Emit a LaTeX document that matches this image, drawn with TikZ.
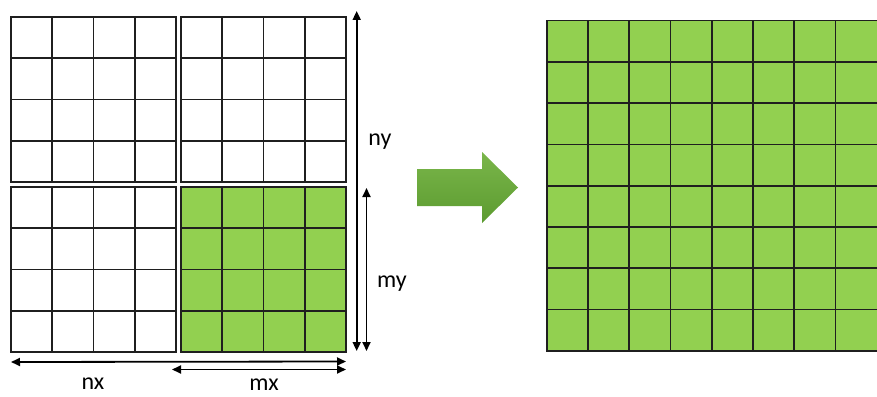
\documentclass[tikz,border=0pt]{standalone}
\usepackage{fontspec}
\setmainfont{Carlito}
\usetikzlibrary{arrows.meta}
\definecolor{cellgreen}{HTML}{92D050}
\definecolor{arrowtop}{HTML}{7AB64A}
\definecolor{arrowbot}{HTML}{5C9B30}
\begin{document}
\begin{tikzpicture}[x=1pt,y=-1pt,
  gridline/.style={line width=1.6pt, draw=black!88},
  dimarrow/.style={line width=1.8pt, {Triangle[length=9pt,width=8pt]}-{Triangle[length=9pt,width=8pt]}},
  lbl/.style={font=\fontsize{24}{27}\selectfont, inner sep=0pt}]
\useasboundingbox (0,0) rectangle (877,396);
% four quadrants of the left grid
\foreach \qx/\qy/\qc in {11/17/white, 181/17/white, 11/187/white, 181/187/cellgreen} {
  \fill[\qc] (\qx,\qy) rectangle +(165,165);
  \foreach \i in {1,2,3} {
    \draw[gridline] (\qx+\i*41.25,\qy) -- ++(0,165);
    \draw[gridline] (\qx,\qy+\i*41.25) -- ++(165,0);
  }
  \draw[gridline] (\qx,\qy) rectangle +(165,165);
}
% right grid
\fill[cellgreen] (546.7,20.7) rectangle (878,350.7);
\foreach \i in {1,...,7} {
  \draw[gridline] (546.7+\i*41.25,20.7) -- ++(0,330);
  \draw[gridline] (546.7,20.7+\i*41.25) -- ++(332,0);
}
\draw[gridline] (878,20.7) -- (546.7,20.7) -- (546.7,350.7) -- (878,350.7);
% dimension arrows
\coordinate (nyT) at (356.7,11);
\coordinate (nyB) at (356.7,351);
\coordinate (myT) at (366.5,188);
\coordinate (myB) at (366.5,351);
\coordinate (nxL) at (11,362);
\coordinate (nxR) at (346,361.5);
\coordinate (mxL) at (172,369.5);
\coordinate (mxR) at (346,369.5);
\draw[dimarrow] (nyT) -- (nyB);
\draw[dimarrow] (myT) -- (myB);
\draw[dimarrow] (nxL) -- (nxR);
\draw[dimarrow] (mxL) -- (mxR);
\node[lbl] (ny) at (380,142) {ny};
\node[lbl] (my) at (392,284) {my};
\node[lbl] (nx) at (93,384) {nx};
\node[lbl] (mx) at (264,385) {mx};
% big green arrow
\shade[top color=arrowtop, bottom color=arrowbot]
  (417,169) -- (482,169) -- (482,152) -- (518,187.5) -- (482,223) -- (482,206) -- (417,206) -- cycle;
\end{tikzpicture}
\end{document}
